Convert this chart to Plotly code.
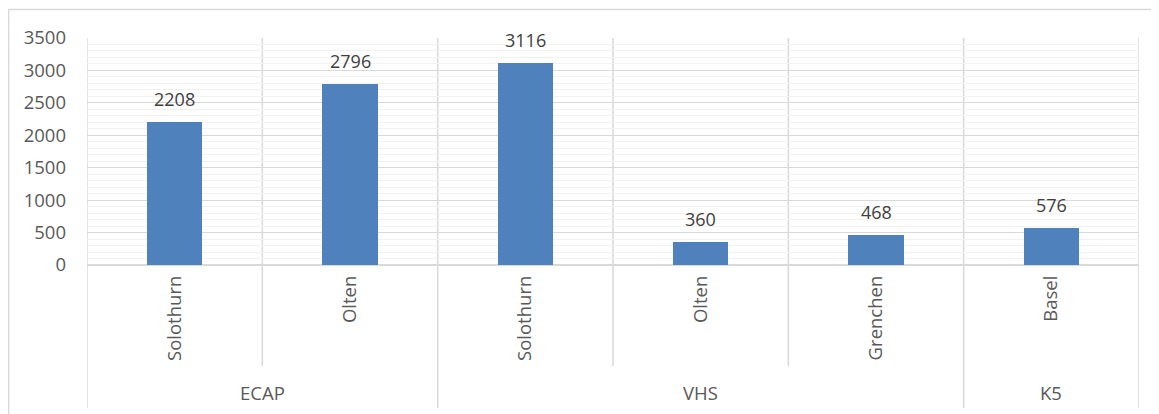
import plotly.graph_objects as go

groups = ["ECAP", "ECAP", "VHS", "VHS", "VHS", "K5"]
locations = ["Solothurn", "Olten", "Solothurn", "Olten", "Grenchen", "Basel"]
values = [2208, 2796, 3116, 360, 468, 576]
y_ticks = [0, 500, 1000, 1500, 2000, 2500, 3000, 3500]

# page is rendered with an 8px body margin, so the figure is offset by 8px
OFF = 8
W, H = 1159 - OFF, 414 - OFF
L, R, T, B = 87 - OFF, 20, 38 - OFF, 149
pw, ph = W - L - R, H - T - B

def px_x(x):  # page pixel -> paper
    return (x - OFF - L) / pw

def px_y(y):
    return (H - B - (y - OFF)) / ph

GRID = "#d9d9d9"
TXT = "#595959"
FONT = "Open Sans, sans-serif"
FS = 18.5

xs = list(range(len(values)))
fig = go.Figure()
fig.add_trace(go.Bar(x=xs, y=values, width=0.315, marker=dict(color="#4f81bd", line=dict(width=0)),
                     hoverinfo="skip"))

shapes = []
shapes.append(dict(type="rect", xref="paper", yref="paper", x0=px_x(8.7), x1=px_x(1175), y0=px_y(440), y1=px_y(9.5),
                   line=dict(color=GRID, width=1.3), fillcolor="rgba(0,0,0,0)", layer="below"))
n = len(values)
for i in range(n + 1):
    xb = i - 0.5
    group_boundary = (i == 0 or i == n or groups[i] != groups[i - 1])
    ybot = px_y(408) if group_boundary else px_y(366)
    shapes.append(dict(type="line", xref="x", yref="paper", x0=xb, x1=xb, y0=ybot, y1=1,
                       line=dict(color=GRID, width=1.5), layer="below"))

annotations = []
for x, v in zip(xs, values):
    annotations.append(dict(x=x, y=v, xref="x", yref="y", text=str(v), showarrow=False,
                            yanchor="bottom", yshift=9, font=dict(family=FONT, size=18, color="#404040")))
start = 0
for i in range(1, n + 1):
    if i == n or groups[i] != groups[start]:
        mid = (start - 0.5 + i - 0.5) / 2
        annotations.append(dict(x=mid, y=px_y(392), xref="x", yref="paper", text=groups[start],
                                showarrow=False, yanchor="middle",
                                font=dict(family=FONT, size=FS, color=TXT)))
        start = i

fig.update_layout(
    width=W, height=H,
    margin=dict(l=L, r=R, t=T, b=B, autoexpand=False),
    paper_bgcolor="white", plot_bgcolor="white",
    showlegend=False,
    bargap=0,
    shapes=shapes,
    annotations=annotations,
    xaxis=dict(range=[-0.5, n - 0.5], tickmode="array", tickvals=xs, ticktext=locations,
               tickangle=-90, showgrid=False, zeroline=False, showline=False, ticks="",
               ticklabelstandoff=6, automargin=False,
               tickfont=dict(family=FONT, size=FS, color=TXT), fixedrange=True),
    yaxis=dict(range=[0, 3500], tickmode="array", tickvals=y_ticks,
               showgrid=True, gridcolor=GRID, gridwidth=1.3,
               minor=dict(dtick=100, showgrid=True, gridcolor="#f2f2f2", gridwidth=1.3),
               zeroline=True, zerolinecolor=GRID, zerolinewidth=1.5,
               showline=False, ticks="", ticklabelstandoff=20, automargin=False,
               tickfont=dict(family=FONT, size=FS, color=TXT), fixedrange=True),
)

fig.write_html("out.html")
